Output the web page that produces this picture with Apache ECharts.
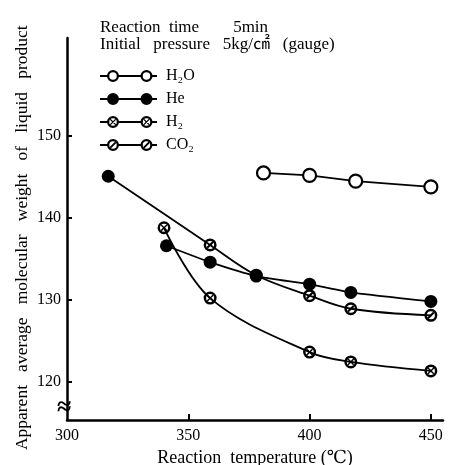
<!DOCTYPE html>
<html>
<head>
<meta charset="utf-8">
<script src="https://cdn.jsdelivr.net/npm/echarts@6/dist/echarts.min.js"></script>
<style>
  html, body { margin: 0; background: #fff; }
  #chart { width: 451px; height: 465px; }
</style>
</head>
<body>
<div id="chart"></div>
<script>
const serif = "'Liberation Serif', 'DejaVu Serif', 'Noto Sans CJK JP', serif"

// values
const seriesNames = ['H₂O', 'He', 'H₂', 'CO₂']
const h2oData = [[381, 145.5], [400, 145.2], [419, 144.5], [450, 143.8]]
const heData = [[341, 136.6], [359, 134.6], [378, 132.9], [400, 131.9], [417, 130.9], [450, 129.8]]
const h2Data = [[340, 138.8], [359, 130.2], [400, 123.6], [417, 122.4], [450, 121.3]]
const co2Data = [[317, 145.1], [359, 136.7], [378, 133.0], [400, 130.5], [417, 128.9], [450, 128.1]]
const xTicks = [300, 350, 400, 450]
const yTicks = [120, 130, 140, 150]

// symbol path helpers
function disc(cx, cy, r) {
  return `M${cx},${cy - r}A${r},${r},0,1,1,${cx},${cy + r}A${r},${r},0,1,1,${cx},${cy - r}Z`
}
function hole(cx, cy, r) {
  return `M${cx},${cy - r}A${r},${r},0,1,0,${cx},${cy + r}A${r},${r},0,1,0,${cx},${cy - r}Z`
}
function bar(cx, cy, len, w, deg) {
  const t = (deg * Math.PI) / 180
  const pts = [[-w / 2, -len / 2], [w / 2, -len / 2], [w / 2, len / 2], [-w / 2, len / 2]].map(([x, y]) => [
    (cx + x * Math.cos(t) - y * Math.sin(t)).toFixed(2),
    (cy + x * Math.sin(t) + y * Math.cos(t)).toFixed(2),
  ])
  return 'M' + pts.map((p) => p.join(',')).join('L') + 'Z'
}
function rect(x0, x1, h) {
  return `M${x0},${-h}L${x1},${-h}L${x1},${h}L${x0},${h}Z`
}
function mark(kind, cx, cy, r) {
  const ri = r * 0.62
  if (kind === 'open') return disc(cx, cy, r) + hole(cx, cy, ri)
  if (kind === 'fill') return disc(cx, cy, r)
  if (kind === 'cross') return disc(cx, cy, r) + hole(cx, cy, ri) + bar(cx, cy, ri * 2, r * 0.22, 45) + bar(cx, cy, ri * 2, r * 0.22, -45)
  return disc(cx, cy, r) + hole(cx, cy, ri) + bar(cx, cy, ri * 2, r * 0.32, 45)
}
function legendIcon(kind) {
  return 'path://' + rect(0, 8, 0.9) + mark(kind, 13, 0, 6) + rect(18, 41, 0.9) + mark(kind, 46.5, 0, 6) + rect(51, 57, 0.9)
}

const H2_SYMBOL = 'path://' + mark('cross', 0, 0, 10)
const CO2_SYMBOL = 'path://' + mark('slash', 0, 0, 10)
const kinds = ['open', 'fill', 'cross', 'slash']

const chart = echarts.init(document.getElementById('chart'))

const lineBase = {
  type: 'line',
  lineStyle: { color: '#000', width: 1.8 },
  symbolSize: 13,
  emphasis: { disabled: true },
}

chart.setOption({
  backgroundColor: '#fff',
  animation: false,
  grid: { left: 67, right: 8, top: 38, bottom: 45, outerBoundsMode: 'none', containLabel: false },
  legend: {
    left: 95,
    top: 63,
    orient: 'vertical',
    itemWidth: 57,
    itemHeight: 12,
    itemGap: 7,
    selectedMode: false,
    textStyle: { fontFamily: serif, fontSize: 16, color: '#000', padding: [0, 0, 0, 4] },
    itemStyle: { borderWidth: 0 },
    data: seriesNames.map((n, i) => ({ name: n, icon: legendIcon(kinds[i]), itemStyle: { color: '#000', borderWidth: 0 } })),
  },
  xAxis: {
    type: 'value',
    min: 300,
    max: 455,
    name: 'Reaction  temperature (℃)',
    nameLocation: 'middle',
    nameGap: 29,
    nameTextStyle: { fontFamily: serif, fontSize: 18, color: '#000' },
    axisLine: { lineStyle: { color: '#000', width: 2.5 } },
    axisTick: { inside: true, length: 6, lineStyle: { width: 2 }, customValues: xTicks.slice(1) },
    axisLabel: { fontFamily: serif, fontSize: 16, color: '#000', margin: 8, customValues: xTicks },
    splitLine: { show: false },
  },
  yAxis: {
    type: 'value',
    min: 115.3,
    max: 162,
    name: 'Apparent   average   molecular   weight   of   liquid   product    ',
    nameLocation: 'middle',
    nameGap: 36,
    nameMoveOverlap: false,
    nameTextStyle: { fontFamily: serif, fontSize: 17.5, color: '#000' },
    axisLine: { lineStyle: { color: '#000', width: 2.5 } },
    axisTick: { inside: true, length: 5, lineStyle: { width: 2 }, customValues: yTicks },
    axisLabel: { fontFamily: serif, fontSize: 16, color: '#000', margin: 6, customValues: yTicks },
    splitLine: { show: false },
  },
  graphic: [
    { type: 'text', left: 100, top: 19, style: { text: 'Reaction  time        5min', font: `17px ${serif}`, fill: '#000' } },
    { type: 'text', left: 100, top: 36, style: { text: 'Initial   pressure   5kg/㎠   (gauge)', font: `17px ${serif}`, fill: '#000' } },
    { type: 'text', left: 57, top: 395, style: { text: '≈', font: `bold 26px ${serif}`, fill: '#000' } },
  ],
  series: [
    {
      ...lineBase,
      name: seriesNames[3],
      symbol: CO2_SYMBOL,
      smooth: 0.35,
      itemStyle: { color: '#000', borderWidth: 0 },
      data: co2Data.map((p, i) => (i === 0 ? { value: p, symbol: 'circle' } : p)),
    },
    {
      ...lineBase,
      name: seriesNames[2],
      symbol: H2_SYMBOL,
      smooth: 0.35,
      itemStyle: { color: '#000', borderWidth: 0 },
      data: h2Data,
    },
    {
      ...lineBase,
      name: seriesNames[1],
      symbol: 'circle',
      smooth: 0.2,
      itemStyle: { color: '#000', borderWidth: 0 },
      data: heData,
    },
    {
      ...lineBase,
      name: seriesNames[0],
      symbol: 'circle',
      itemStyle: { color: '#fff', borderColor: '#000', borderWidth: 2.2 },
      data: h2oData,
    },
  ],
})
</script>
</body>
</html>
